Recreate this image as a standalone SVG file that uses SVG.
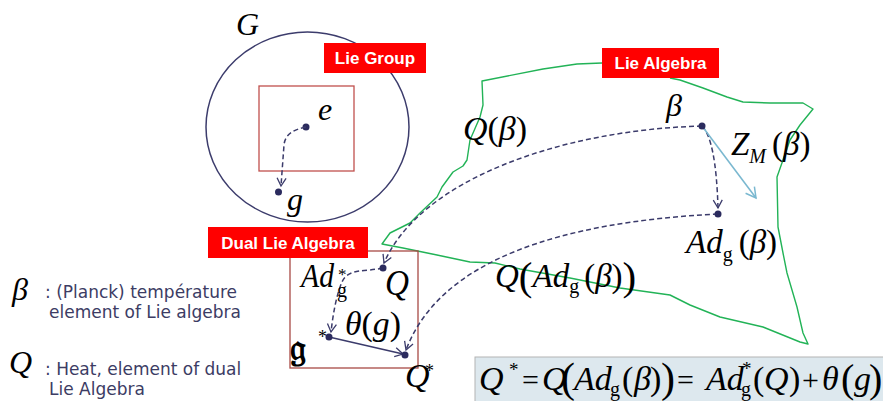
<svg xmlns="http://www.w3.org/2000/svg" width="883" height="401" viewBox="0 0 883 401">
<style>
.m{font-family:"Liberation Serif","Times New Roman",serif;font-style:italic;fill:#000}
.r{font-style:normal}
.lab{font-family:"Century Gothic","Liberation Sans",Arial,sans-serif;font-weight:bold;fill:#fff;font-size:17px}
.leg{font-family:"Century Gothic","DejaVu Sans","Liberation Sans",sans-serif;fill:#3c3c64;font-size:17px}
.d{fill:none;stroke:#3b3b6b;stroke-width:1.5;stroke-dasharray:5,3}
.pt{fill:#2b2b5e}
</style>
<defs>
<marker id="av" markerWidth="12" markerHeight="12" refX="9" refY="6" orient="auto" markerUnits="userSpaceOnUse">
<path d="M1,1.5 L9,6 L1,10.5" fill="none" stroke="#3b3b6b" stroke-width="1.3"/>
</marker>
<marker id="ab" markerWidth="14" markerHeight="14" refX="11" refY="7" orient="auto" markerUnits="userSpaceOnUse">
<path d="M1,1.5 L11,7 L1,12.5" fill="none" stroke="#7ab8d0" stroke-width="1.5"/>
</marker>
</defs>

<g id="lie-group">
<ellipse cx="307.5" cy="127" rx="101.5" ry="95" fill="none" stroke="#3c3c6c" stroke-width="1.5"/>
<text class="m" x="236" y="35" font-size="32">G</text>
<rect x="259" y="86" width="95" height="85" fill="none" stroke="#c0504d" stroke-width="1.3"/>
<rect x="324" y="43" width="102" height="30" fill="#ff0000"/>
<text class="lab" x="375" y="64" text-anchor="middle">Lie Group</text>
</g>

<g id="node-e">
<circle class="pt" cx="306" cy="127" r="3.5"/>
<text class="m" x="318" y="120" font-size="32">e</text>
</g>
<g id="node-g">
<circle class="pt" cx="278.5" cy="192" r="3.5"/>
<text class="m" x="287" y="210" font-size="32">g</text>
</g>

<g id="lie-algebra">
<path d="M602,63 L577,64 L543,69 L482,81 L483,105 L480,117 L470,140 L467,160 L463,166 L453,172 L442,187 L437,197 L420,213 L410,223 L400,228 L390,233 L382,244 L403,248 L437,255 L470,262 L495,263 L520,269 L570,278 L620,288 L670,295 L690,305 L720,317 L763,327 L800,342 L808,344 L803,333 L797,307 L787,273 L783,253 L778,227 L777,177 L783,160 L790,140 L800,125 L813,109 L803,103 L770,103 L743,102 L727,97 L703,88 L680,80 L670,78" fill="none" stroke="#22b357" stroke-width="1.4" stroke-linejoin="round"/>
<rect x="602" y="48" width="117" height="30" fill="#ff0000"/>
<text class="lab" x="660.5" y="69" text-anchor="middle">Lie Algebra</text>
</g>

<g id="dual-lie-algebra">
<rect x="290" y="251" width="128" height="117" fill="none" stroke="#a84a45" stroke-width="1.3"/>
<rect x="208" y="227" width="160" height="31" fill="#ff0000"/>
<text class="lab" x="288" y="248.5" text-anchor="middle">Dual Lie Algebra</text>
</g>

<g id="connectors">
<path class="d" d="M306,127 C292,130 285,135 284,145 L281,186" marker-end="url(#av)"/>
<path class="d" d="M702,126 C560,130 420,180 384,263" marker-end="url(#av)"/>
<path class="d" d="M702,126 Q716,140 718,208" marker-end="url(#av)"/>
<path class="d" d="M718,214 C560,222 440,260 406,350" marker-end="url(#av)"/>
<path class="d" d="M383,268 C365,272 348,268 342,282 C336,296 333,315 331,332" marker-end="url(#av)"/>
<path d="M329,337 L403,354" fill="none" stroke="#3b3b6b" stroke-width="1.5" marker-end="url(#av)"/>
<path d="M702,126 L756,198" fill="none" stroke="#7ab8d0" stroke-width="1.6" marker-end="url(#ab)"/>
</g>

<g id="node-beta">
<circle class="pt" cx="702" cy="126" r="3.5"/>
<text class="m" x="666" y="116" font-size="32">β</text>
<text class="m" x="463" y="140" font-size="34" textLength="64" lengthAdjust="spacingAndGlyphs">Q<tspan class="r">(</tspan>β<tspan class="r">)</tspan></text>
<text class="m" x="731" y="155" font-size="33">Z<tspan font-size="20" dy="8">M</tspan><tspan class="r" dy="-8" dx="6">(</tspan>β<tspan class="r">)</tspan></text>
</g>

<g id="node-adg-beta">
<circle class="pt" cx="718" cy="214" r="3.5"/>
<text class="m" x="686" y="253" font-size="33">Ad<tspan class="r" font-size="20" dy="8">g</tspan><tspan class="r" dy="-8" dx="6">(</tspan>β<tspan class="r">)</tspan></text>
<text class="m" x="495" y="287" font-size="33">Q<tspan class="r" font-size="41" dy="3">(</tspan><tspan dy="-3">Ad</tspan><tspan class="r" font-size="20" dy="6">g</tspan><tspan class="r" dy="-6" dx="5">(</tspan>β<tspan class="r">)</tspan><tspan class="r" font-size="41" dy="3">)</tspan></text>
</g>

<g id="node-Q">
<circle class="pt" cx="383" cy="268" r="3.5"/>
<text class="m" x="385" y="295" font-size="35" textLength="24" lengthAdjust="spacingAndGlyphs">Q</text>
<text class="m" x="301" y="287" font-size="34" textLength="33" lengthAdjust="spacingAndGlyphs">Ad</text>
<text class="m r" x="337" y="297" font-size="20">g</text>
<text class="m r" x="338" y="280" font-size="17">*</text>
</g>

<g id="node-gstar">
<circle class="pt" cx="329" cy="337" r="3.5"/>
<text x="290" y="360" font-size="36" font-family="'DejaVu Serif','Noto Sans',serif" font-weight="bold" fill="#000">𝔤</text>
<text class="m r" x="318" y="343" font-size="18">*</text>
<text class="m" x="345" y="335" font-size="34" textLength="56" lengthAdjust="spacingAndGlyphs">θ<tspan class="r">(</tspan>g<tspan class="r">)</tspan></text>
</g>

<g id="node-Qstar">
<circle class="pt" cx="405" cy="355" r="3.5"/>
<text class="m" x="405" y="387" font-size="34">Q</text>
<text class="m r" x="425" y="377" font-size="18">*</text>
</g>

<g id="legend">
<text class="m" x="12" y="300" font-size="32">β</text>
<text class="leg" x="45" y="298">: (Planck) température</text>
<text class="leg" x="49" y="318">element of Lie algebra</text>
<text class="m" x="9" y="373" font-size="32">Q</text>
<text class="leg" x="45" y="375">: Heat, element of dual</text>
<text class="leg" x="49" y="395">Lie Algebra</text>
</g>

<g id="formula">
<rect x="475" y="357" width="415" height="50" fill="#dde8ee" stroke="#b4b4b4" stroke-width="1"/>
<text class="m" x="479" y="390" font-size="34">Q</text>
<text class="m r" x="509" y="376" font-size="19">*</text>
<text class="m r" x="522" y="390" font-size="30">=</text>
<text class="m" x="542" y="390" font-size="34">Q</text>
<text class="m r" x="561" y="392" font-size="42">(</text>
<text class="m" x="574" y="390" font-size="34">Ad</text>
<text class="m r" x="610" y="396" font-size="20">g</text>
<text class="m r" x="622" y="390" font-size="34">(</text>
<text class="m" x="634" y="390" font-size="34">β</text>
<text class="m r" x="650" y="390" font-size="34">)</text>
<text class="m r" x="661" y="392" font-size="42">)</text>
<text class="m r" x="677" y="390" font-size="30">=</text>
<text class="m" x="706" y="390" font-size="34">Ad</text>
<text class="m r" x="741" y="396" font-size="20">g</text>
<text class="m r" x="742" y="375" font-size="19">*</text>
<text class="m r" x="753" y="390" font-size="34">(</text>
<text class="m" x="764" y="390" font-size="34">Q</text>
<text class="m r" x="789" y="390" font-size="34">)</text>
<text class="m r" x="802" y="390" font-size="30">+</text>
<text class="m" x="822" y="390" font-size="34">θ</text>
<text class="m r" x="841" y="392" font-size="40">(</text>
<text class="m" x="854" y="390" font-size="34">g</text>
<text class="m r" x="869" y="392" font-size="40">)</text>
</g>
</svg>
